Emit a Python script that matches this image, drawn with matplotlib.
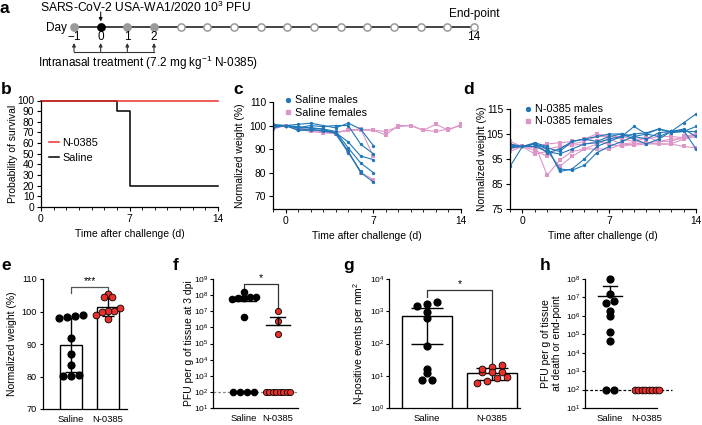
import numpy as np
import matplotlib
matplotlib.use("Agg")
import matplotlib.pyplot as plt
from matplotlib.ticker import MultipleLocator, NullLocator
from matplotlib.lines import Line2D

plt.rcParams['font.family'] = ['Liberation Sans', 'DejaVu Sans']
plt.rcParams['mathtext.fontset'] = 'custom'
plt.rcParams['mathtext.rm'] = 'Liberation Sans'
plt.rcParams['mathtext.it'] = 'Liberation Sans:italic'
plt.rcParams['mathtext.bf'] = 'Liberation Sans:bold'

BLUE = '#1f77b8'
PINK = '#dc96c8'
RED = '#e8302a'

# ---- data ----
# a: timeline
timeline_days = list(range(-1, 15))
treatment_days = [-1, 0, 1, 2]
challenge_day = 0
endpoint_day = 14

# b: survival
surv_saline_days = [0, 6, 7, 14]
surv_saline = [100, 90, 20, 20]
surv_n0385_days = [0, 14]
surv_n0385 = [100, 100]

# c: saline weights (days -1 ... )
c_males = [
    [99.5, 100, 100.5, 101, 100, 99, 101, 98.5, 91.5],
    [100, 100, 99, 100, 99.5, 100, 100, 92, 88],
    [99, 100, 98, 98, 98, 97, 93, 87, 85.5],
    [100, 100, 99, 99, 98.5, 97.5, 90.5, 84, 80],
    [99.5, 100, 98, 98.5, 97.5, 97, 89, 80, 76],
    [100.5, 100, 99.5, 99, 98.5, 96.5, 88.5, 80.5],
]
c_females = [
    [98.5, 100, 99, 98, 98, 97, 98, 98.5, 98, 96, 100, 100, 98, 100.5, 98, 100.5],
    [99, 100, 98.5, 97.5, 97, 97, 98, 98, 98, 97.5, 99.5, 100, 98, 97.5, 98.5, 100],
    [99, 100, 99, 98, 97.5, 97, 98, 98.5, 87],
    [99.5, 100, 99, 97.5, 97, 96.5, 89, 80, 77],
]

# d: N-0385 weights (days -1 ... 14)
d_males = [
    [92, 100, 101, 99, 91, 90.5, 92.5, 97.5, 100, 102, 104, 103, 105.5, 106, 109.5, 113],
    [101, 100, 101.5, 100, 90, 91, 95, 100, 102, 104, 108, 105, 104, 106, 106.5, 99],
    [100, 100, 100, 98, 97, 99, 101, 101.5, 103, 104, 105, 105.5, 107, 105.5, 106, 108],
    [99.5, 100, 101, 97.5, 99, 102, 103, 102, 104, 105, 103, 101, 103, 106, 107, 104],
    [100.5, 100, 101, 99.5, 98, 102, 103, 104, 105, 105, 104, 105, 107, 106, 106, 106],
]
d_females = [
    [102, 100, 97, 98, 92, 96, 99, 99, 99, 101, 100.5, 101, 101, 101, 103, 104],
    [98, 100, 101, 88.5, 94.5, 98, 99, 101, 103, 101, 101.5, 104, 102, 102, 104, 105],
    [101, 100, 100, 101, 101.5, 102, 103, 105, 104, 104, 103, 103, 104, 104, 103.5, 104.5],
    [99, 100, 98.5, 96, 99.5, 101, 102, 104, 104, 103, 102, 101.5, 101, 101, 100, 99.5],
    [99.5, 100, 99.5, 99, 100, 100.5, 101, 102, 101, 100, 101, 101.5, 102, 103, 103, 105],
]

groups = ['Saline', 'N-0385']

# e: normalized weight
e_saline = [98.3, 98.6, 98.0, 99.0, 92.0, 87.0, 83.4, 80.2, 80.5, 80.3]
e_n0385 = [105.4, 104.4, 104.4, 100.3, 100.2, 101.2, 99.7, 99.0, 97.7]

# f: PFU at 3 dpi
f_saline = [1.55e8, 7.3e7, 7.0e7, 6.6e7, 7.5e7, 6.0e7, 4.4e6, 100, 100, 100, 100]
f_n0385 = [1.0e7, 2.6e6, 3.9e5, 100, 100, 100, 100, 100, 100, 100, 100]
f_mean = [4.2e7, 1.35e6]
f_upper = [8.5e7, 4.7e6]

# g: N-positive events
g_saline = [1700, 2000, 1500, 940, 600, 81, 12, 16, 7.2, 7.2]
g_n0385 = [13, 18.6, 21, 16.5, 13, 13, 9, 8.5, 7, 5.9]
g_mean = [690, 12.5]
g_err = [590, 5.0]

# h: PFU at death / end-point
h_saline = [1e8, 1.5e7, 4.8e6, 6.6e6, 1.9e6, 9.4e5, 1.3e5, 4.2e4, 100, 100]
h_n0385 = [100] * 8
h_mean = [1.15e7]
h_upper = [4.0e7]
LOD = 100

# ---- layout helpers ----
W, H = 702, 425
fig = plt.figure(figsize=(7.02, 4.25), dpi=100)
TOP_FS = 7.4
BOT_TICK_FS = 6.6
LOG_TICK_FS = 6.1
LAB_FS = 7.5


def px_axes(l, t, r, b):
    return fig.add_axes([l / W, 1 - b / H, (r - l) / W, (b - t) / H])


def style(ax, fs=TOP_FS, length=3, pad=1.8):
    for s in ['top', 'right']:
        ax.spines[s].set_visible(False)
    for s in ['left', 'bottom']:
        ax.spines[s].set_linewidth(0.9)
    ax.tick_params(length=length, width=0.8, labelsize=fs, pad=pad)
    ax.tick_params(which='minor', length=2, width=0.6)


def label_x_px(ax, x_px, l, r):
    # x_px is the right edge of the rotated label
    ax.yaxis.set_label_coords((x_px - l) / (r - l), 0.5)


def swarm(vals, thr, d_px, max_px, unit_px, log=False):
    v = np.log10(vals) if log else np.asarray(vals, float)
    order = np.argsort(v, kind='stable')
    offs = np.zeros(len(v))
    grps, cur = [], [order[0]]
    for i in order[1:]:
        if v[i] - v[cur[-1]] < thr:
            cur.append(i)
        else:
            grps.append(cur)
            cur = [i]
    grps.append(cur)
    for g in grps:
        n = len(g)
        if n > 1:
            step = min(d_px, max_px / (n - 1))
            for k, idx in enumerate(g):
                offs[idx] = (k - (n - 1) / 2) * step / unit_px
    return offs


def letter(x, y, s):
    fig.text(x / W, 1 - y / H, s, fontsize=12.5, fontweight='bold', va='top', ha='left')


def group_xticks(ax):
    ax.set_xticks([0, 1])
    ax.set_xticklabels(groups, fontsize=BOT_TICK_FS + 0.2)
    ax.tick_params(axis='x', length=0, pad=4)


# ---- a: timeline ----
ax = px_axes(74, 0, 474, 75)
ax.set_xlim(-1, 14)
ax.set_ylim(75, 0)
ax.axis('off')
ax.plot(timeline_days, [27] * len(timeline_days), color='#222222', lw=1.2, zorder=1, clip_on=False)
for dday in timeline_days:
    if dday == challenge_day:
        fc, ec = 'black', 'black'
    elif dday in treatment_days:
        fc, ec = '#9a9a9a', '#9a9a9a'
    else:
        fc, ec = 'white', '#9a9a9a'
    ax.plot(dday, 27, 'o', ms=5.2, mfc=fc, mec=ec, mew=1.1, zorder=3, clip_on=False)
ax.text(-1.28, 28, 'Day', ha='right', va='center', fontsize=8.5)
for dday in treatment_days + [endpoint_day]:
    ax.text(dday, 37.5, str(dday).replace('-', '\u2212'), ha='center', va='center', fontsize=8.5)
for dday in treatment_days:
    ax.annotate('', xy=(dday, 43), xytext=(dday, 51.5),
                arrowprops=dict(arrowstyle='-|>', color='#333333', lw=0.8, mutation_scale=5,
                                shrinkA=0, shrinkB=0), annotation_clip=False)
ax.plot([treatment_days[0], treatment_days[-1]], [51.5, 51.5], color='#333333', lw=0.8, clip_on=False)
ax.text(-2.35, 62.5, 'Intranasal treatment (7.2 mg kg$^{-1}$ N-0385)', ha='left', va='center',
        fontsize=8.5)
ax.text(-2.27, 7, 'SARS-CoV-2 USA-WA1/2020 10$^{3}$ PFU', ha='left', va='center', fontsize=8.7)
ax.annotate('', xy=(challenge_day, 21.5), xytext=(challenge_day, 12),
            arrowprops=dict(arrowstyle='-|>', color='#111111', lw=0.8, mutation_scale=5,
                            shrinkA=0, shrinkB=0), annotation_clip=False)
ax.text(endpoint_day, 14.5, 'End-point', ha='center', va='center', fontsize=8.5)
letter(0, 1, 'a')

# ---- b: survival ----
l, t, r, b = 41, 100.5, 218, 207
ax = px_axes(l, t, r, b)
style(ax)
ax.plot(surv_saline_days, surv_saline, drawstyle='steps-post', color='black', lw=1.1,
        label='Saline', clip_on=False)
ax.plot(surv_n0385_days, surv_n0385, color=RED, lw=1.1, label='N-0385', clip_on=False)
ax.set_xlim(0, 14)
ax.set_ylim(0, 100)
ax.set_xticks([0, 7, 14])
ax.xaxis.set_minor_locator(MultipleLocator(1))
ax.set_yticks(range(0, 101, 10))
ax.set_xlabel('Time after challenge (d)', fontsize=LAB_FS, labelpad=4)
ax.set_ylabel('Probability of survival', fontsize=LAB_FS)
label_x_px(ax, 18, l, r)
h1, l1 = ax.get_legend_handles_labels()
ax.legend(h1[::-1], l1[::-1], loc='upper left', bbox_to_anchor=(0.02, 0.69), frameon=False,
          fontsize=7.8, handlelength=0.9, handletextpad=0.35, labelspacing=0.45, borderaxespad=0)
letter(1, 82, 'b')

# ---- c: saline weights ----
l, t, r, b = 273, 102, 461, 209
ax = px_axes(l, t, r, b)
style(ax)
for w in c_females:
    ax.plot(timeline_days[:len(w)], w, color=PINK, lw=0.8, marker='s', ms=2.6, mew=0)
for w in c_males:
    ax.plot(timeline_days[:len(w)], w, color=BLUE, lw=0.8, marker='o', ms=2.4, mew=0)
ax.set_xlim(-1, 14)
ax.set_ylim(64.5, 110)
ax.set_xticks([0, 7, 14])
ax.xaxis.set_minor_locator(MultipleLocator(1))
ax.set_yticks([70, 80, 90, 100, 110])
ax.set_xlabel('Time after challenge (d)', fontsize=LAB_FS, labelpad=4)
ax.set_ylabel('Normalized weight (%)', fontsize=LAB_FS)
label_x_px(ax, 245, l, r)
hc = [Line2D([], [], ls='none', marker='o', ms=2.8, mfc=BLUE, mec=BLUE),
      Line2D([], [], ls='none', marker='s', ms=3.4, mfc=PINK, mec=PINK)]
ax.legend(hc, ['Saline males', 'Saline females'], loc='upper left',
          bbox_to_anchor=((280 - l) / (r - l), 1 + (102 - 91) / (b - t)), frameon=False,
          fontsize=7.8, handlelength=0.6, handletextpad=0.4, labelspacing=0.2, borderaxespad=0)
letter(233, 82, 'c')

# ---- d: N-0385 weights ----
l, t, r, b = 510, 109, 696, 209
ax = px_axes(l, t, r, b)
style(ax)
for w in d_females:
    ax.plot(timeline_days[:len(w)], w, color=PINK, lw=0.8, marker='s', ms=2.6, mew=0)
for w in d_males:
    ax.plot(timeline_days[:len(w)], w, color=BLUE, lw=0.8, marker='o', ms=2.4, mew=0)
ax.set_xlim(-1, 14)
ax.set_ylim(75, 115)
ax.set_xticks([0, 7, 14])
ax.xaxis.set_minor_locator(MultipleLocator(1))
ax.set_yticks([75, 85, 95, 105, 115])
ax.set_xlabel('Time after challenge (d)', fontsize=LAB_FS, labelpad=4)
ax.set_ylabel('Normalized weight (%)', fontsize=LAB_FS)
label_x_px(ax, 487, l, r)
ax.legend(hc, ['N-0385 males', 'N-0385 females'], loc='upper left',
          bbox_to_anchor=((520 - l) / (r - l), 1 + (109 - 100) / (b - t)), frameon=False,
          fontsize=7.8, handlelength=0.6, handletextpad=0.4, labelspacing=0.2, borderaxespad=0)
letter(463, 82, 'd')

# ---- e: weight bars ----
l, t, r, b = 43, 279, 127, 409
ax = px_axes(l, t, r, b)
style(ax, BOT_TICK_FS, 2.5)
unit = 37.0
e_data = [e_saline, e_n0385]
e_means = [np.mean(v) for v in e_data]
e_sd = [np.std(v, ddof=1) for v in e_data]
ax.bar([0, 1], e_means, width=0.61, color='white', edgecolor='black', lw=1.0, zorder=1)
ax.errorbar([0, 1], e_means, yerr=e_sd, fmt='none', ecolor='black', elinewidth=1.0,
            capsize=4.5, capthick=1.0, zorder=3)
for i, v in enumerate(e_data):
    off = swarm(v, 1.0, 8, 24, unit)
    if i == 0:
        ax.scatter(i + off, v, s=24, color='black', zorder=4, clip_on=False)
    else:
        ax.scatter(i + off, v, s=24, color=RED, edgecolors='black', linewidths=0.6, zorder=4,
                   clip_on=False)
ax.set_xlim(-0.76, 1.51)
ax.set_ylim(70, 110)
ax.set_yticks([70, 80, 90, 100, 110])
group_xticks(ax)
ax.set_ylabel('Normalized weight (%)', fontsize=LAB_FS)
label_x_px(ax, 17, l, r)
ax.plot([0, 0, 1, 1], [105.8, 107.5, 107.5, 105.8], color='#555555', lw=0.9, clip_on=False)
ax.text(0.5, 107.9, '***', ha='center', va='bottom', fontsize=7.5)
letter(1, 258, 'e')

# ---- f: PFU 3 dpi ----
l, t, r, b = 213, 279, 298, 408
ax = px_axes(l, t, r, b)
style(ax, LOG_TICK_FS, 2, 1.2)
ax.set_yscale('log')
unit = 34.0
ax.axhline(LOD, color='#8a8a8a', ls=(0, (2.2, 1.6)), lw=0.9, zorder=0)
f_data = [f_saline, f_n0385]
for i, v in enumerate(f_data):
    off = swarm(v, 0.25, 7, 24, unit, log=True)
    if i == 0:
        ax.scatter(i + off, v, s=20, color='black', zorder=4, clip_on=False)
    else:
        ax.scatter(i + off, v, s=20, color=RED, edgecolors='black', linewidths=0.6, zorder=4,
                   clip_on=False)
    ax.plot([i - 0.35, i + 0.35], [f_mean[i], f_mean[i]], color='black', lw=1.0, zorder=5)
    ax.plot([i, i], [f_mean[i], f_upper[i]], color='black', lw=1.0, zorder=5)
    ax.plot([i - 0.22, i + 0.22], [f_upper[i], f_upper[i]], color='black', lw=1.0, zorder=5)
ax.set_xlim(-0.91, 1.59)
ax.set_ylim(10, 1e9)
ax.set_yticks([10.0 ** k for k in range(1, 10)])
ax.yaxis.set_minor_locator(NullLocator())
group_xticks(ax)
ax.set_ylabel('PFU per g of tissue at 3 dpi', fontsize=LAB_FS)
label_x_px(ax, 194, l, r)
ax.plot([0, 0, 1, 1], [2.8e8, 4.9e8, 4.9e8, 1.6e7], color='#333333', lw=0.9, clip_on=False)
ax.text(0.5, 5.5e8, '*', ha='center', va='bottom', fontsize=7.5)
letter(173, 258, 'f')

# ---- g: N-positive events ----
l, t, r, b = 389, 279, 520, 408
ax = px_axes(l, t, r, b)
style(ax, LOG_TICK_FS, 2, 1.2)
ax.set_yscale('log')
unit = 65.0
ax.bar([0, 1], g_mean, width=0.78, color='white', edgecolor='black', lw=1.0, zorder=1)
ax.errorbar([0, 1], g_mean, yerr=g_err, fmt='none', ecolor='black', elinewidth=1.0,
            capsize=11.5, capthick=1.0, zorder=3)
g_data = [g_saline, g_n0385]
for i, v in enumerate(g_data):
    off = swarm(v, 0.1, 10, 40, unit, log=True)
    if i == 0:
        ax.scatter(i + off, v, s=24, color='black', zorder=4)
    else:
        ax.scatter(i + off, v, s=24, color=RED, edgecolors='black', linewidths=0.6, zorder=4)
ax.set_xlim(-0.585, 1.43)
ax.set_ylim(1, 1e4)
ax.set_yticks([1, 10, 100, 1000, 10000])
ax.yaxis.set_minor_locator(NullLocator())
group_xticks(ax)
ax.set_ylabel('N-positive events per mm$^{2}$', fontsize=LAB_FS)
label_x_px(ax, 367, l, r)
ax.plot([0, 0, 1, 1], [2.8e3, 4.4e3, 4.4e3, 25], color='#333333', lw=0.9, clip_on=False)
ax.text(0.5, 4.9e3, '*', ha='center', va='bottom', fontsize=7.5)
letter(343, 258, 'g')

# ---- h: PFU at death / end-point ----
l, t, r, b = 585, 279, 657, 408
ax = px_axes(l, t, r, b)
style(ax, LOG_TICK_FS, 2, 1.2)
ax.set_yscale('log')
unit = 37.0
ax.axhline(LOD, xmin=0, xmax=(672 - l) / (r - l), color='black', ls=(0, (2.2, 1.6)), lw=0.9,
           zorder=0, clip_on=False)
h_data = [h_saline, h_n0385]
for i, v in enumerate(h_data):
    off = swarm(v, 0.2, 8, 24, unit, log=True)
    if i == 0:
        ax.scatter(i + off, v, s=24, color='black', zorder=4, clip_on=False)
    else:
        ax.scatter(i + off, v, s=24, color=RED, edgecolors='black', linewidths=0.6, zorder=4,
                   clip_on=False)
ax.plot([-0.33, 0.33], [h_mean[0], h_mean[0]], color='black', lw=1.0, zorder=5)
ax.plot([0, 0], [h_mean[0], h_upper[0]], color='black', lw=1.0, zorder=5)
ax.plot([-0.18, 0.18], [h_upper[0], h_upper[0]], color='black', lw=1.0, zorder=5)
ax.set_xlim(-0.68, 1.27)
ax.set_ylim(10, 1e8)
ax.set_yticks([10.0 ** k for k in range(1, 9)])
ax.yaxis.set_minor_locator(NullLocator())
group_xticks(ax)
ax.set_ylabel('PFU per g of tissue\nat death or end-point', fontsize=LAB_FS, linespacing=1.1)
label_x_px(ax, 562, l, r)
letter(540, 258, 'h')

fig.savefig('out.png', dpi=100)
